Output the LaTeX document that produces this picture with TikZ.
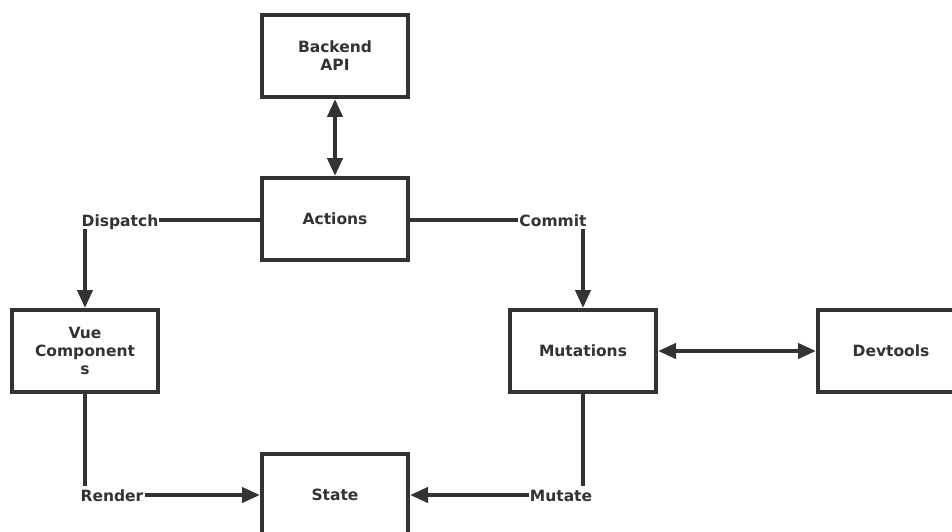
\documentclass[tikz,border=0pt]{standalone}
\usepackage{fontspec}
\setmainfont{DejaVu Sans}
\usepackage{xcolor}
\usepackage{tikz}
\usetikzlibrary{arrows.meta}
\definecolor{ink}{HTML}{333333}
\tikzset{
  box/.style={draw=ink, line width=4pt, minimum width=146pt, minimum height=82pt,
    align=center, text=ink, font=\fontsize{15.5}{18}\selectfont\bfseries},
  lab/.style={text=ink, inner sep=1pt, text height=14pt, text depth=2pt,
    font=\fontsize{15.5}{18}\selectfont\bfseries},
  link/.style={draw=ink, line width=4pt},
  flow/.style={link, -{Triangle[length=18pt,width=15pt]}},
  both/.style={link, {Triangle[length=18pt,width=15pt]}-{Triangle[length=18pt,width=15pt]}}
}
\begin{document}
\begin{tikzpicture}[x=1pt,y=-1pt]
  \useasboundingbox (0,0) rectangle (952,532);
  \clip (0,0) rectangle (952,532);

  % boxes
  \node[box] (api) at (335,56) {Backend\\API};
  \node[box] (act) at (335,219) {Actions};
  \node[box] (vue) at (85,351) {Vue\\Component\\s};
  \node[box] (mut) at (583,351) {Mutations};
  \node[box] (dev) at (891,351) {Devtools};
  \node[box] (st) at (335,495) {State};

  % labels
  \node[lab] (disp) at (120,220) {Dispatch};
  \node[lab] (com) at (553,220) {Commit};
  \node[lab] (ren) at (112,495) {Render};
  \node[lab] (mu) at (561,495) {Mutate};

  % connectors
  \draw[both] (api) -- (act);
  \draw[link] (act.west |- disp) -- (disp);
  \draw[flow] (vue.north |- disp.south) -- (vue.north);
  \draw[link] (act.east |- com) -- (com);
  \draw[flow] (mut.north |- com.south) -- (mut.north);
  \draw[both] (mut) -- (dev);
  \draw[link] (vue) -- (vue.south |- ren.north);
  \draw[flow] (ren) -- (st);
  \draw[link] (mut) -- (mut.south |- mu.north);
  \draw[flow] (mu) -- (st);
\end{tikzpicture}
\end{document}
